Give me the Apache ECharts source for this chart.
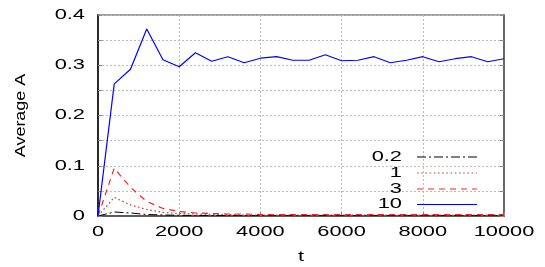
<!DOCTYPE html>
<html>
<head>
<meta charset="utf-8">
<script src="https://cdn.jsdelivr.net/npm/echarts@6/dist/echarts.min.js"></script>
<style>
html,body{margin:0;padding:0;background:#fff;}
#c{width:545px;height:267px;}
</style>
</head>
<body>
<div id="c"></div>
<script>
// ---- data ----
const tValues = [0, 400, 800, 1200, 1600, 2000, 2400, 2800, 3200, 3600, 4000, 4400, 4800, 5200, 5600, 6000, 6400, 6800, 7200, 7600, 8000, 8400, 8800, 9200, 9600, 10000];
const s02 = [0, 0.008, 0.006, 0.003, 0.002, 0.0015, 0.001, 0.001, 0.001, 0.001, 0.001, 0.001, 0.001, 0.001, 0.001, 0.001, 0.001, 0.001, 0.001, 0.001, 0.001, 0.001, 0.001, 0.001, 0.001, 0.001];
const s1 = [0, 0.037, 0.022, 0.013, 0.007, 0.005, 0.004, 0.003, 0.003, 0.002, 0.002, 0.002, 0.002, 0.002, 0.002, 0.002, 0.002, 0.002, 0.002, 0.002, 0.002, 0.002, 0.002, 0.002, 0.002, 0.002];
const s3 = [0, 0.095, 0.057, 0.029, 0.015, 0.009, 0.006, 0.005, 0.004, 0.004, 0.003, 0.003, 0.003, 0.003, 0.003, 0.003, 0.003, 0.003, 0.003, 0.003, 0.003, 0.003, 0.003, 0.003, 0.003, 0.003];
const s10 = [0, 0.263, 0.292, 0.372, 0.311, 0.297, 0.325, 0.308, 0.317, 0.305, 0.314, 0.317, 0.310, 0.310, 0.321, 0.309, 0.310, 0.317, 0.305, 0.310, 0.317, 0.307, 0.313, 0.317, 0.307, 0.313];
const seriesNames = ['0.2', '1', '3', '10'];
const xTicks = [0, 2000, 4000, 6000, 8000, 10000];
const xTickLabels = ['0', '2000', '4000', '6000', '8000', '10000'];
const yTicks = [0, 0.1, 0.2, 0.3, 0.4];
const yTickLabels = ['0', '0.1', '0.2', '0.3', '0.4'];
const xName = 't';
const yName = 'Average A';

// ---- styles ----
const FONT = '14px "Liberation Sans", Arial, sans-serif';
const SX = 1.56;
const styles = [
  {color: '#000000', type: [9, 3, 2, 3], width: 1},
  {color: '#b84848', type: [1.6, 2.6], width: 1.2},
  {color: '#ff2020', type: [6, 5], width: 1.2},
  {color: '#0000ff', type: 'solid', width: 1.2}
];
const datas = [s02, s1, s3, s10];

const chart = echarts.init(document.getElementById('c'));
const gridLine = {show: true, lineStyle: {color: '#bbbbbb', type: [2, 2], width: 1}};
chart.setOption({
  animation: false,
  grid: {left: 98, right: 41, top: 15, bottom: 51, show: true, borderColor: '#808080', borderWidth: 1.5},
  xAxis: {
    type: 'value', min: 0, max: 10000, interval: 2000,
    axisLine: {show: true, lineStyle: {color: '#444', width: 1.5}},
    axisTick: {show: true, inside: true, length: 4, lineStyle: {color: '#888'}},
    axisLabel: {show: false},
    splitLine: gridLine
  },
  yAxis: [{
    type: 'value', min: 0, max: 0.4, interval: 0.05,
    axisLine: {show: true, lineStyle: {color: '#000', width: 1.5}},
    axisTick: {show: true, inside: true, length: 4, lineStyle: {color: '#888'}},
    axisLabel: {show: false},
    splitLine: gridLine
  }, {
    type: 'value', position: 'right', min: 0, max: 0.4, interval: 0.05,
    axisLine: {show: true, lineStyle: {color: '#555', width: 1.5}},
    axisTick: {show: true, inside: true, length: 4, lineStyle: {color: '#888'}},
    axisLabel: {show: false},
    splitLine: {show: false}
  }],
  series: datas.map((d, i) => ({
    name: seriesNames[i], type: 'line', yAxisIndex: 0, symbol: 'none', z: 2 + i,
    lineStyle: {color: styles[i].color, type: styles[i].type, width: styles[i].width},
    data: tValues.map((t, k) => [t, d[k]])
  }))
});

function txt(text, x, y, align, rot, sx) {
  return {
    type: 'text', x: x, y: y, scaleX: sx || SX, rotation: rot || 0, silent: true, z: 100,
    style: {text: text, font: FONT, fill: '#000', align: align, textAlign: align,
            verticalAlign: 'middle', textVerticalAlign: 'middle'}
  };
}
const g = [];
xTicks.forEach((v, i) => {
  const p = chart.convertToPixel({gridIndex: 0}, [v, 0]);
  g.push(txt(xTickLabels[i], p[0], p[1] + 16, 'center'));
});
yTicks.forEach((v, i) => {
  const p = chart.convertToPixel({gridIndex: 0}, [0, v]);
  g.push(txt(yTickLabels[i], p[0] - 13, p[1], 'right'));
});
const c0 = chart.convertToPixel({gridIndex: 0}, [5000, 0.2]);
g.push(txt(xName, c0[0], 257, 'center'));
g.push(txt(yName, 21, c0[1], 'center', Math.PI / 2, 1.28));
// legend
const legY = [157, 173, 189, 204.5];
seriesNames.forEach((n, i) => {
  g.push(txt(n, 402, legY[i], 'right'));
  const st = styles[i];
  g.push({type: 'line', silent: true, z: 100,
    shape: {x1: 417, y1: legY[i], x2: 477, y2: legY[i]},
    style: {stroke: st.color, lineWidth: st.width, lineDash: st.type === 'solid' ? null : st.type}});
});
chart.setOption({graphic: g});
</script>
</body>
</html>
